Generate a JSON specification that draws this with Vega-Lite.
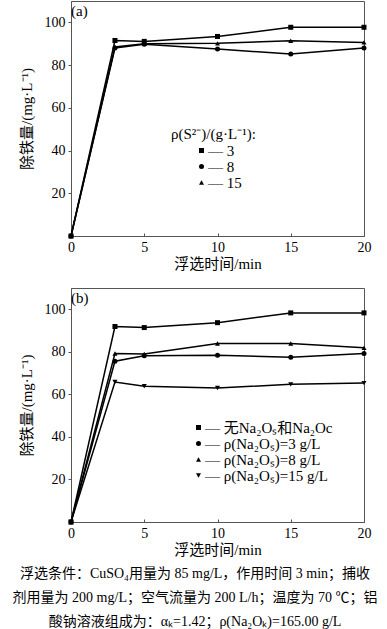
{
  "$schema": "https://vega.github.io/schema/vega-lite/v6.json",
  "padding": {"left": 12, "top": 0, "right": 5, "bottom": 0},
  "bounds": "flush",
  "spacing": 52,
  "resolve": {"scale": {"shape": "independent"}, "legend": {"shape": "independent"}},
  "config": {
    "font": "'Liberation Serif', 'Noto Sans CJK SC', serif",
    "view": {"stroke": "#555", "strokeWidth": 1},
    "axis": {
      "labelFont": "'Liberation Serif', 'Noto Sans CJK SC', serif",
      "titleFont": "'Liberation Serif', 'Noto Sans CJK SC', serif",
      "labelFontSize": 14,
      "titleFontSize": 15,
      "titleFontWeight": "normal",
      "labelColor": "#000",
      "titleColor": "#000",
      "grid": false,
      "domainColor": "#555",
      "tickColor": "#555"
    },
    "axisX": {"tickSize": -3, "labelPadding": 7, "titlePadding": 2, "labelFlush": false},
    "axisY": {"tickSize": 3, "labelPadding": 3, "titlePadding": 10},
    "legend": {
      "labelFont": "'Liberation Serif', 'Noto Sans CJK SC', serif",
      "titleFont": "'Liberation Serif', 'Noto Sans CJK SC', serif",
      "labelFontSize": 15,
      "titleFontSize": 15,
      "titleFontWeight": "normal",
      "labelColor": "#000",
      "titleColor": "#000",
      "symbolFillColor": "#000",
      "symbolStrokeColor": "#000",
      "symbolSize": 25,
      "rowPadding": 0,
      "titlePadding": 1,
      "orient": "none"
    },
    "title": {"font": "'Liberation Serif', 'Noto Sans CJK SC', serif", "fontWeight": "normal", "color": "#000"}
  },
  "datasets": {
    "a": [
      {"series": "3", "t": 0, "v": 0},
      {"series": "3", "t": 3, "v": 91.5},
      {"series": "3", "t": 5, "v": 91.1},
      {"series": "3", "t": 10, "v": 93.4},
      {"series": "3", "t": 15, "v": 97.7},
      {"series": "3", "t": 20, "v": 97.7},
      {"series": "8", "t": 0, "v": 0},
      {"series": "8", "t": 3, "v": 88.0},
      {"series": "8", "t": 5, "v": 89.7},
      {"series": "8", "t": 10, "v": 87.5},
      {"series": "8", "t": 15, "v": 85.2},
      {"series": "8", "t": 20, "v": 88.0},
      {"series": "15", "t": 0, "v": 0},
      {"series": "15", "t": 3, "v": 88.5},
      {"series": "15", "t": 5, "v": 90.0},
      {"series": "15", "t": 10, "v": 90.2},
      {"series": "15", "t": 15, "v": 91.4},
      {"series": "15", "t": 20, "v": 90.6}
    ],
    "b": [
      {"series": "无Na₂Oₛ和Na₂Oc", "t": 0, "v": 0},
      {"series": "无Na₂Oₛ和Na₂Oc", "t": 3, "v": 91.9},
      {"series": "无Na₂Oₛ和Na₂Oc", "t": 5, "v": 91.4},
      {"series": "无Na₂Oₛ和Na₂Oc", "t": 10, "v": 93.7},
      {"series": "无Na₂Oₛ和Na₂Oc", "t": 15, "v": 98.3},
      {"series": "无Na₂Oₛ和Na₂Oc", "t": 20, "v": 98.3},
      {"series": "ρ(Na₂Oₛ)=3 g/L", "t": 0, "v": 0},
      {"series": "ρ(Na₂Oₛ)=3 g/L", "t": 3, "v": 75.6},
      {"series": "ρ(Na₂Oₛ)=3 g/L", "t": 5, "v": 78.1},
      {"series": "ρ(Na₂Oₛ)=3 g/L", "t": 10, "v": 78.4},
      {"series": "ρ(Na₂Oₛ)=3 g/L", "t": 15, "v": 77.5},
      {"series": "ρ(Na₂Oₛ)=3 g/L", "t": 20, "v": 79.2},
      {"series": "ρ(Na₂Oₛ)=8 g/L", "t": 0, "v": 0},
      {"series": "ρ(Na₂Oₛ)=8 g/L", "t": 3, "v": 79.2},
      {"series": "ρ(Na₂Oₛ)=8 g/L", "t": 5, "v": 79.0},
      {"series": "ρ(Na₂Oₛ)=8 g/L", "t": 10, "v": 83.9},
      {"series": "ρ(Na₂Oₛ)=8 g/L", "t": 15, "v": 83.9},
      {"series": "ρ(Na₂Oₛ)=8 g/L", "t": 20, "v": 81.9},
      {"series": "ρ(Na₂Oₛ)=15 g/L", "t": 0, "v": 0},
      {"series": "ρ(Na₂Oₛ)=15 g/L", "t": 3, "v": 65.8},
      {"series": "ρ(Na₂Oₛ)=15 g/L", "t": 5, "v": 63.8},
      {"series": "ρ(Na₂Oₛ)=15 g/L", "t": 10, "v": 63.0},
      {"series": "ρ(Na₂Oₛ)=15 g/L", "t": 15, "v": 64.7},
      {"series": "ρ(Na₂Oₛ)=15 g/L", "t": 20, "v": 65.3}
    ]
  },
  "title": {
    "text": [
      "浮选条件：CuSO₄用量为 85 mg/L，作用时间 3 min；捕收",
      "剂用量为 200 mg/L；空气流量为 200 L/h；温度为 70 ℃；铝",
      "酸钠溶液组成为：αₖ=1.42；ρ(Na₂Oₖ)=165.00 g/L"
    ],
    "orient": "bottom",
    "anchor": "middle",
    "align": "center",
    "fontSize": 14,
    "lineHeight": 24,
    "offset": 9
  },
  "vconcat": [
    {
      "width": 293,
      "height": 235,
      "data": {"name": "a"},
      "title": {"text": "(a)", "orient": "top", "anchor": "start", "frame": "group", "offset": -18, "dx": 0, "fontSize": 15},
      "encoding": {
        "x": {"field": "t", "type": "quantitative", "scale": {"domain": [0, 20], "nice": false}, "axis": {"values": [0, 5, 10, 15, 20], "title": "浮选时间/min"}},
        "y": {"field": "v", "type": "quantitative", "scale": {"domain": [0, 110], "nice": false}, "axis": {"values": [20, 40, 60, 80, 100], "title": "除铁量/(mg·L⁻¹)"}}
      },
      "layer": [
        {"mark": {"type": "line", "color": "#000", "strokeWidth": 1.5}, "encoding": {"detail": {"field": "series"}}},
        {
          "mark": {"type": "point", "filled": true, "color": "#000", "size": 25, "opacity": 1},
          "encoding": {
            "shape": {
              "field": "series",
              "scale": {"domain": ["3", "8", "15"], "range": ["square", "circle", "triangle-up"]},
              "legend": {"title": "ρ(S²⁻)/(g·L⁻¹):", "legendX": 100, "legendY": 126, "symbolOffset": 23, "labelOffset": -1, "labelExpr": "'— ' + datum.label"}
            }
          }
        }
      ]
    },
    {
      "width": 293,
      "height": 234,
      "data": {"name": "b"},
      "title": {"text": "(b)", "orient": "top", "anchor": "start", "frame": "group", "offset": -18, "dx": 0, "fontSize": 15},
      "encoding": {
        "x": {"field": "t", "type": "quantitative", "scale": {"domain": [0, 20], "nice": false}, "axis": {"values": [0, 5, 10, 15, 20], "title": "浮选时间/min"}},
        "y": {"field": "v", "type": "quantitative", "scale": {"domain": [0, 110], "nice": false}, "axis": {"values": [20, 40, 60, 80, 100], "title": "除铁量/(mg·L⁻¹)"}}
      },
      "layer": [
        {"mark": {"type": "line", "color": "#000", "strokeWidth": 1.5}, "encoding": {"detail": {"field": "series"}}},
        {
          "mark": {"type": "point", "filled": true, "color": "#000", "size": 25, "opacity": 1},
          "encoding": {
            "shape": {
              "field": "series",
              "scale": {"domain": ["无Na₂Oₛ和Na₂Oc", "ρ(Na₂Oₛ)=3 g/L", "ρ(Na₂Oₛ)=8 g/L", "ρ(Na₂Oₛ)=15 g/L"], "range": ["square", "circle", "triangle-up", "triangle-down"]},
              "legend": {"title": null, "legendX": 120, "legendY": 132, "labelOffset": -1, "labelExpr": "'— ' + datum.label"}
            }
          }
        }
      ]
    }
  ]
}
